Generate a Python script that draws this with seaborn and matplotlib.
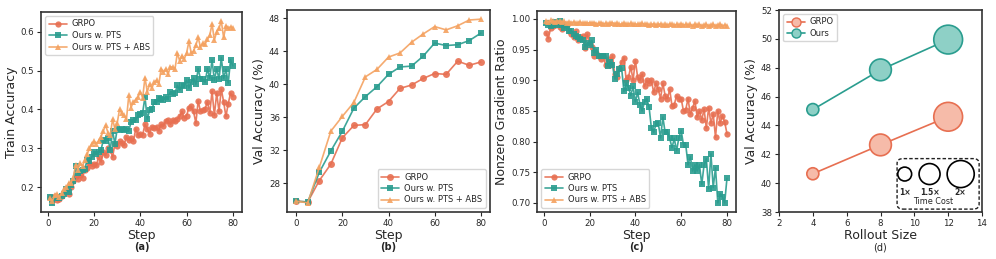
import numpy as np
import pandas as pd
import matplotlib
matplotlib.use("Agg")
import matplotlib.pyplot as plt
import matplotlib.ticker as mticker
import seaborn as sns
from matplotlib.patches import FancyBboxPatch

sns.set_theme(style="ticks")
plt.rcParams['font.family'] = ['DejaVu Sans']

RED = "#E76F51"
TEAL = "#2A9D8F"
ORANGE = "#F4A261"
RED_FILL = "#F6BBA9"
TEAL_FILL = "#8ED0C6"

series_names = ["GRPO", "Ours w. PTS", "Ours w. PTS + ABS"]

# ---------- (a) Train accuracy ----------
steps_a = list(range(1, 81))
train_grpo = [0.175, 0.165, 0.178, 0.168, 0.170, 0.178, 0.188, 0.193, 0.183, 0.200,
              0.215, 0.228, 0.222, 0.232, 0.225, 0.245, 0.250, 0.262, 0.255, 0.260,
              0.258, 0.278, 0.265, 0.290, 0.282, 0.300, 0.295, 0.278, 0.312, 0.305,
              0.318, 0.315, 0.310, 0.330, 0.322, 0.327, 0.318, 0.350, 0.335, 0.338,
              0.335, 0.362, 0.350, 0.338, 0.355, 0.352, 0.356, 0.345, 0.362, 0.358,
              0.370, 0.372, 0.362, 0.372, 0.370, 0.376, 0.382, 0.395, 0.378, 0.384,
              0.405, 0.408, 0.395, 0.365, 0.422, 0.395, 0.398, 0.402, 0.420, 0.390,
              0.447, 0.385, 0.442, 0.395, 0.452, 0.420, 0.382, 0.415, 0.442, 0.433]
train_pts = [0.175, 0.160, 0.172, 0.175, 0.172, 0.178, 0.182, 0.195, 0.188, 0.205,
             0.215, 0.255, 0.238, 0.242, 0.245, 0.248, 0.270, 0.268, 0.278, 0.290,
             0.285, 0.292, 0.296, 0.322, 0.318, 0.326, 0.296, 0.345, 0.312, 0.350,
             0.348, 0.350, 0.348, 0.350, 0.345, 0.368, 0.372, 0.372, 0.385, 0.388,
             0.392, 0.432, 0.375, 0.398, 0.400, 0.420, 0.418, 0.430, 0.426, 0.425,
             0.432, 0.428, 0.445, 0.440, 0.442, 0.462, 0.450, 0.462, 0.460, 0.475,
             0.455, 0.470, 0.480, 0.465, 0.505, 0.478, 0.478, 0.470, 0.505, 0.480,
             0.527, 0.475, 0.505, 0.478, 0.533, 0.480, 0.503, 0.468, 0.528, 0.512]
train_abs = [0.172, 0.165, 0.180, 0.183, 0.175, 0.185, 0.195, 0.200, 0.210, 0.212,
             0.225, 0.258, 0.245, 0.262, 0.255, 0.270, 0.285, 0.300, 0.312, 0.318,
             0.312, 0.320, 0.330, 0.345, 0.360, 0.340, 0.335, 0.375, 0.350, 0.365,
             0.400, 0.390, 0.385, 0.375, 0.436, 0.405, 0.420, 0.425, 0.432, 0.445,
             0.430, 0.482, 0.445, 0.465, 0.455, 0.470, 0.475, 0.465, 0.505, 0.495,
             0.505, 0.490, 0.510, 0.508, 0.505, 0.545, 0.525, 0.538, 0.530, 0.545,
             0.575, 0.545, 0.550, 0.565, 0.585, 0.560, 0.570, 0.568, 0.580, 0.590,
             0.620, 0.578, 0.600, 0.608, 0.627, 0.585, 0.615, 0.610, 0.612, 0.610]

# ---------- (b) Val accuracy ----------
steps_b = list(range(0, 81, 5))
val_grpo = [25.8, 25.7, 28.3, 30.3, 33.5, 35.0, 35.1, 37.0, 37.9, 39.5, 39.9, 40.7, 41.3, 41.2, 42.8, 42.3, 42.7]
val_pts = [25.8, 25.7, 29.3, 31.9, 34.3, 37.1, 38.5, 39.7, 41.2, 42.1, 42.2, 43.4, 45.0, 44.7, 44.8, 45.3, 46.2]
val_abs = [25.8, 25.6, 29.9, 34.3, 36.1, 37.8, 40.9, 41.8, 43.3, 43.8, 45.1, 46.1, 47.0, 46.6, 47.1, 47.8, 47.9]

# ---------- (c) Nonzero gradient ratio ----------
steps_c = list(range(1, 81))
nz_grpo = [0.977, 0.968, 0.985, 0.988, 0.990, 0.993, 0.987, 0.983, 0.988, 0.990,
           0.980, 0.975, 0.970, 0.980, 0.965, 0.970, 0.972, 0.952, 0.975, 0.960,
           0.955, 0.940, 0.945, 0.940, 0.935, 0.940, 0.925, 0.935, 0.925, 0.940,
           0.910, 0.905, 0.920, 0.930, 0.937, 0.900, 0.905, 0.922, 0.900, 0.932,
           0.905, 0.900, 0.910, 0.890, 0.900, 0.895, 0.900, 0.880, 0.895, 0.885,
           0.870, 0.895, 0.875, 0.870, 0.885, 0.858, 0.860, 0.875, 0.870, 0.870,
           0.850, 0.852, 0.870, 0.845, 0.855, 0.866, 0.840, 0.850, 0.835, 0.853,
           0.822, 0.855, 0.830, 0.845, 0.807, 0.850, 0.830, 0.842, 0.832, 0.813]
nz_pts = [0.993, 0.990, 0.988, 0.990, 0.995, 0.990, 0.996, 0.990, 0.985, 0.990,
          0.980, 0.980, 0.975, 0.972, 0.970, 0.968, 0.965, 0.955, 0.960, 0.958,
          0.965, 0.945, 0.950, 0.940, 0.940, 0.940, 0.940, 0.923, 0.930, 0.925,
          0.902, 0.910, 0.918, 0.920, 0.882, 0.895, 0.888, 0.875, 0.890, 0.865,
          0.880, 0.860, 0.850, 0.865, 0.870, 0.856, 0.822, 0.815, 0.828, 0.830,
          0.806, 0.840, 0.815, 0.816, 0.805, 0.790, 0.805, 0.785, 0.806, 0.818,
          0.795, 0.795, 0.762, 0.775, 0.752, 0.762, 0.752, 0.762, 0.730, 0.762,
          0.772, 0.723, 0.780, 0.725, 0.757, 0.700, 0.715, 0.710, 0.700, 0.740]
nz_abs = [0.997, 0.995, 0.998, 0.996, 0.995, 0.997, 0.996, 0.995, 0.996, 0.994,
          0.995, 0.994, 0.995, 0.993, 0.994, 0.995, 0.993, 0.994, 0.993, 0.994,
          0.993, 0.994, 0.992, 0.993, 0.994, 0.992, 0.993, 0.992, 0.993, 0.994,
          0.992, 0.993, 0.991, 0.992, 0.993, 0.991, 0.992, 0.993, 0.991, 0.992,
          0.991, 0.992, 0.993, 0.991, 0.992, 0.990, 0.991, 0.992, 0.990, 0.991,
          0.992, 0.990, 0.991, 0.990, 0.992, 0.991, 0.990, 0.991, 0.990, 0.992,
          0.990, 0.991, 0.990, 0.991, 0.989, 0.991, 0.990, 0.991, 0.989, 0.990,
          0.991, 0.989, 0.990, 0.991, 0.989, 0.990, 0.991, 0.989, 0.990, 0.989]

# ---------- (d) Rollout size ----------
rollout = [4, 8, 12]
d_grpo = [40.65, 42.65, 44.6]
d_ours = [45.1, 47.85, 49.95]
bubble_sizes = [75, 245, 430]
cost_labels = ["1×", "1.5×", "2×"]
cost_sizes = [100, 228, 380]

W, H = 996, 259
fig = plt.figure(figsize=(W / 100, H / 100), dpi=100)

def mk_ax(left_px, right_px, top_px, bottom_px):
    return fig.add_axes([left_px / W, (H - bottom_px) / H, (right_px - left_px) / W, (bottom_px - top_px) / H])

axa = mk_ax(41, 242, 12, 212)
axb = mk_ax(287, 490, 10, 212)
axc = mk_ax(537, 736, 11, 212)
axd = mk_ax(779, 982, 10, 212)

colors = [RED, TEAL, ORANGE]
markers = ["o", "s", "^"]

def draw_lines(ax, x, ys, ms):
    for name, y, c, m in zip(series_names, ys, colors, markers):
        sns.lineplot(x=x, y=y, ax=ax, color=c, marker=m, markersize=ms, linewidth=1.2,
                     markeredgewidth=0, label=name, alpha=0.9)

draw_lines(axa, steps_a, [train_grpo, train_pts, train_abs], 4.5)
draw_lines(axb, steps_b, [val_grpo, val_pts, val_abs], 5)
draw_lines(axc, steps_c, [nz_grpo, nz_pts, nz_abs], 4.5)

tick_fs = 6.2
label_fs = 9

def style(ax, xlabel, ylabel, tag, bold=True):
    ax.set_xlabel(xlabel, fontsize=label_fs, labelpad=1)
    ax.set_ylabel(ylabel, fontsize=label_fs, labelpad=2)
    ax.tick_params(labelsize=tick_fs, length=3, width=0.8, pad=2)
    for s in ax.spines.values():
        s.set_color("#333333")
        s.set_linewidth(1.2)
    bb = ax.get_position()
    fig.text((bb.x0 + bb.x1) / 2, 12 / H, tag, ha="center", va="center",
             fontsize=7, fontweight="bold" if bold else "normal")

leg_kw = dict(fontsize=6, frameon=True, handlelength=2.2, borderpad=0.4,
              labelspacing=0.3, handletextpad=0.6)

style(axa, "Step", "Train Accuracy", "(a)")
axa.set_xticks([0, 20, 40, 60, 80])
axa.set_yticks([0.2, 0.3, 0.4, 0.5, 0.6])
axa.legend(loc="upper left", **leg_kw)

style(axb, "Step", "Val Accuracy (%)", "(b)")
axb.set_xticks([0, 20, 40, 60, 80])
axb.set_yticks([28, 32, 36, 40, 44, 48])
axb.legend(loc="lower right", **leg_kw)

style(axc, "Step", "Nonzero Gradient Ratio", "(c)")
axc.set_xticks([0, 20, 40, 60, 80])
axc.set_yticks([0.70, 0.75, 0.80, 0.85, 0.90, 0.95, 1.00])
axc.yaxis.set_major_formatter(mticker.FormatStrFormatter("%.2f"))
axc.legend(loc="lower left", **leg_kw)

# (d)
for name, y, ec, fc in [("GRPO", d_grpo, RED, RED_FILL), ("Ours", d_ours, TEAL, TEAL_FILL)]:
    sns.lineplot(x=rollout, y=y, ax=axd, color=ec, linewidth=1.2, marker="o", markersize=6.5,
                 markerfacecolor=fc, markeredgecolor=ec, markeredgewidth=1.0, label=name)
    axd.scatter(rollout, y, s=bubble_sizes, facecolor=fc, edgecolor=ec, linewidth=1.2, zorder=3)

axd.set_xlim(2, 14)
axd.set_ylim(38, 52)
axd.set_xticks([2, 4, 6, 8, 10, 12, 14])
axd.set_yticks([38, 40, 42, 44, 46, 48, 50, 52])
style(axd, "Rollout Size", "Val Accuracy (%)", "(d)", bold=False)
axd.legend(loc="upper left", **leg_kw)

box = FancyBboxPatch((8.98, 38.2), 4.85, 3.5, boxstyle="round,pad=0,rounding_size=0.35",
                     transform=axd.transData, facecolor="white", edgecolor="#222222",
                     linestyle=(0, (2.5, 1.5)), linewidth=1.0, zorder=4,
                     mutation_aspect=(14 / 12) * (200 / 203) * 0.85)
axd.add_patch(box)
cost_x = [9.43, 10.9, 12.74]
axd.scatter(cost_x, [40.63] * 3, s=cost_sizes, facecolor="white", edgecolor="black",
            linewidth=1.2, zorder=5)
for cx, lab in zip(cost_x, cost_labels):
    axd.text(cx, 39.35, lab, ha="center", va="center", fontsize=5.5, fontweight="bold", zorder=6)
axd.text(11.1, 38.72, "Time Cost", ha="center", va="center", fontsize=5.8, zorder=6)

fig.savefig("out.png", dpi=100)
